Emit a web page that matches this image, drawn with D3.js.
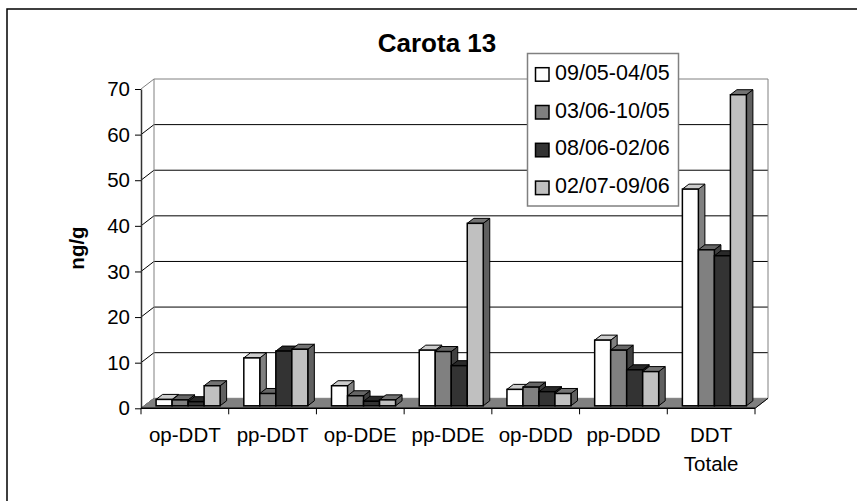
<!DOCTYPE html>
<html>
<head>
<meta charset="utf-8">
<script src="https://cdn.jsdelivr.net/npm/d3@7/dist/d3.min.js"></script>
<style>
  html, body { margin: 0; padding: 0; background: #fff; }
  svg { display: block; font-family: "Liberation Sans", Arial, sans-serif; }
</style>
</head>
<body>
<svg id="chart" width="857" height="501"></svg>
<script>
// Concentrations (ng/g) per compound, one array per sampling period
const categories = ["op-DDT", "pp-DDT", "op-DDE", "pp-DDE", "op-DDD", "pp-DDD", "DDT Totale"];
const seriesNames = ["09/05-04/05", "03/06-10/05", "08/06-02/06", "02/07-09/06"];
const s0905 = [1.4, 10.5, 4.4, 12.2, 3.6, 14.4, 47.5];
const s0306 = [1.3, 2.7, 2.2, 11.9, 4.1, 12.2, 34.2];
const s0806 = [0.9, 12.0, 1.0, 8.8, 3.1, 7.9, 32.9];
const s0207 = [4.4, 12.4, 1.3, 40.0, 2.7, 7.5, 68.2];
const seriesValues = [s0905, s0306, s0806, s0207];
const yTicks = [0, 10, 20, 30, 40, 50, 60, 70];
const title = "Carota 13";
const yLabel = "ng/g";

const fills = ["#ffffff", "#808080", "#333333", "#c0c0c0"];

const svg = d3.select("#chart");

// plot frame: front edge of the floor and depth offset of the 3D box
const left = 141, right = 755;
const depth = { dx: 13, dy: -10 };
const y = d3.scaleLinear().domain([0, 70]).range([408.3, 89]);
const x = d3.scaleBand().domain(categories).range([left, right]).padding(0);
const xs = d3.scaleBand().domain(d3.range(seriesNames.length))
  .range([0, x.bandwidth()]).paddingInner(0).paddingOuter(0.74);

// outer chart border
svg.append("rect").attr("x", 7).attr("y", 9).attr("width", 900).attr("height", 600)
  .attr("fill", "none").attr("stroke", "#000").attr("stroke-width", 1.5);

const y0 = y(0), yTop = y(70);

// back wall
svg.append("rect")
  .attr("x", left + depth.dx).attr("y", yTop + depth.dy)
  .attr("width", right - left).attr("height", y0 - yTop)
  .attr("fill", "#fff");

// gridlines on back wall and left wall
yTicks.forEach(t => {
  const yy = y(t);
  const col = t === 70 ? "#808080" : "#000";
  if (t > 0) {
    svg.append("line")
      .attr("x1", left + depth.dx).attr("x2", right + depth.dx)
      .attr("y1", yy + depth.dy).attr("y2", yy + depth.dy)
      .attr("stroke", col).attr("stroke-width", 1);
  }
  svg.append("line")
    .attr("x1", left).attr("y1", yy)
    .attr("x2", left + depth.dx).attr("y2", yy + depth.dy)
    .attr("stroke", col).attr("stroke-width", 1);
});

// back wall left and right edges
svg.append("line").attr("x1", left + depth.dx).attr("x2", left + depth.dx)
  .attr("y1", yTop + depth.dy).attr("y2", y0 + depth.dy).attr("stroke", "#808080");
svg.append("line").attr("x1", right + depth.dx).attr("x2", right + depth.dx)
  .attr("y1", yTop + depth.dy).attr("y2", y0 + depth.dy).attr("stroke", "#808080");

// floor
svg.append("polygon")
  .attr("points", [[left, y0], [right, y0], [right + depth.dx, y0 + depth.dy], [left + depth.dx, y0 + depth.dy]].map(p => p.join(",")).join(" "))
  .attr("fill", "#808080").attr("stroke", "#808080");

// bars as 3D boxes, placed in the middle of the depth
const f0 = 0.25, f1 = 0.75;
const shade = (c, k) => { const r = d3.rgb(c); return d3.rgb(r.r * k, r.g * k, r.b * k).toString(); };
const topShade = [0.8, 0.8, 0.8, 0.6];
const sideShade = [0.5, 0.5, 0.55, 0.5];

categories.forEach((cat, i) => {
  seriesValues.forEach((vals, j) => {
    const v = vals[i];
    const xl = x(cat) + xs(j) + depth.dx * f0;
    const xr = xl + xs.bandwidth();
    const yb = y(0) + depth.dy * f0;
    const yt = y(v) + depth.dy * f0;
    const ddx = depth.dx * (f1 - f0), ddy = depth.dy * (f1 - f0);
    const g = svg.append("g");
    // side face
    g.append("polygon")
      .attr("points", [[xr, yb], [xr + ddx, yb + ddy], [xr + ddx, yt + ddy], [xr, yt]].map(p => p.join(",")).join(" "))
      .attr("fill", shade(fills[j], sideShade[j])).attr("stroke", "#000").attr("stroke-width", 1).attr("stroke-linejoin", "round");
    // top face
    g.append("polygon")
      .attr("points", [[xl, yt], [xr, yt], [xr + ddx, yt + ddy], [xl + ddx, yt + ddy]].map(p => p.join(",")).join(" "))
      .attr("fill", shade(fills[j], topShade[j])).attr("stroke", "#000").attr("stroke-width", 1).attr("stroke-linejoin", "round");
    // front face
    g.append("rect")
      .attr("x", xl).attr("y", yt).attr("width", xr - xl).attr("height", yb - yt)
      .attr("fill", fills[j]).attr("stroke", "#000").attr("stroke-width", 1.5);
  });
});

// y axis
const yAxis = d3.axisLeft(y).tickValues(yTicks).tickSize(6).tickSizeOuter(0).tickPadding(5);
const ya = svg.append("g").attr("transform", `translate(${left},0)`).call(yAxis);
ya.select(".domain").attr("stroke", "#333").attr("stroke-width", 1.5);
ya.selectAll(".tick line").attr("stroke", "#000");
ya.selectAll(".tick text").attr("font-size", 20.5).attr("fill", "#000")
  .attr("font-family", "Liberation Sans, Arial, sans-serif");

// x axis: front edge of floor with ticks between categories
svg.append("line").attr("x1", left).attr("x2", right).attr("y1", y0).attr("y2", y0)
  .attr("stroke", "#000").attr("stroke-width", 1.5);
categories.concat([null]).forEach((c, i) => {
  const xx = c === null ? right : x(c);
  svg.append("line").attr("x1", xx).attr("x2", xx).attr("y1", y0).attr("y2", y0 + 6)
    .attr("stroke", "#000");
});
// floor right edge
svg.append("line").attr("x1", right).attr("y1", y0).attr("x2", right + depth.dx).attr("y2", y0 + depth.dy)
  .attr("stroke", "#000");

categories.forEach(c => {
  const cx = x(c) + x.bandwidth() / 2;
  const words = c === "DDT Totale" ? ["DDT", "Totale"] : [c];
  const t = svg.append("text").attr("x", cx).attr("y", 441.5)
    .attr("text-anchor", "middle").attr("font-size", 20.5).attr("fill", "#000");
  words.forEach((w, k) => {
    t.append("tspan").attr("x", cx).attr("dy", k === 0 ? 0 : 29).text(w);
  });
});

// y axis title
svg.append("text")
  .attr("transform", "translate(84,248) rotate(-90)")
  .attr("text-anchor", "middle").attr("font-size", 20.5).attr("font-weight", "bold")
  .text(yLabel);

// chart title
svg.append("text").attr("x", 437).attr("y", 51.5).attr("text-anchor", "middle")
  .attr("font-size", 26).attr("font-weight", "bold").text(title);

// legend
const lg = svg.append("g");
lg.append("rect").attr("x", 527.5).attr("y", 53.5).attr("width", 151).attr("height", 152.5)
  .attr("fill", "#fff").attr("stroke", "#808080").attr("stroke-width", 1.5);
seriesNames.forEach((name, j) => {
  const yy = 67.7 + j * 37.8;
  lg.append("rect").attr("x", 535.5).attr("y", yy).attr("width", 13.5).attr("height", 13.5)
    .attr("fill", fills[j]).attr("stroke", "#000").attr("stroke-width", 1.5);
  lg.append("text").attr("x", 555).attr("y", yy + 12).attr("font-size", 21.5).attr("fill", "#000")
    .text(name);
});
</script>
</body>
</html>
